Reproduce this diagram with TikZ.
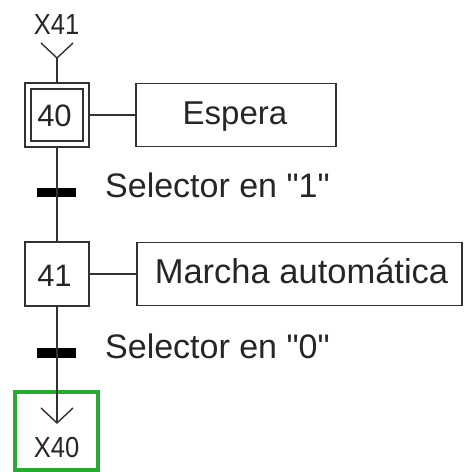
\documentclass[tikz,border=0pt]{standalone}
\usepackage{fontspec}
\setmainfont{Liberation Sans}
\definecolor{ln}{RGB}{50,50,50}
\definecolor{grn}{RGB}{40,170,50}
\tikzset{
  lbl/.style={font=\fontsize{34}{36}\selectfont, text=black!85, inner sep=0pt},
  num/.style={font=\fontsize{31}{33}\selectfont, text=black!85, inner sep=0pt, anchor=base},
  jmp/.style={font=\fontsize{29}{31}\selectfont, text=black!85, inner sep=0pt, anchor=base, xscale=0.88},
  stepbox/.style={draw=ln, line width=1.4pt, minimum width=64pt, minimum height=64pt, inner sep=0pt},
  innerbox/.style={draw=ln, line width=1.4pt, minimum width=52pt, minimum height=52pt, inner sep=0pt},
  actbox/.style={draw=ln, line width=1.4pt, minimum height=63pt, inner sep=0pt},
  bar/.style={fill=black, minimum width=39pt, minimum height=9.5pt, inner sep=0pt},
  wire/.style={draw=ln, line width=1.4pt},
}
\begin{document}
\begin{tikzpicture}[x=1pt,y=-1pt]
\useasboundingbox (0,0) rectangle (464,473);
% initial step link
\node[jmp] (x41) at (56.5,35) {X41};
\coordinate (c41l) at (41,43);
\coordinate (c41t) at (57,58);
\coordinate (c41r) at (73,43);
\path[wire] (c41l) -- (c41t) -- (c41r);
% step 40
\node[stepbox] (s40) at (57,115) {};
\node[innerbox] (s40i) at (57,115) {};
\node[num] (n40) at (54.5,127) {40};
\path[wire] (c41t) -- (s40.north);
\node[actbox, minimum width=200pt] (a40) at (236,115) {};
\node[lbl, anchor=base, font=\fontsize{33}{35}\selectfont] (a40t) at (235,125) {Espera};
\path[wire] (s40.east) -- (a40.west);
% transition 1
\node[bar] (t1) at (56.5,192.5) {};
\node[lbl, anchor=base west] (t1l) at (105,197) {Selector en \textquotedbl1\textquotedbl};
% step 41
\node[stepbox] (s41) at (57,274) {};
\node[num] (n41) at (54.5,286) {41};
\node[actbox, minimum width=325pt] (a41) at (299.5,274) {};
\node[lbl, anchor=base, font=\fontsize{34.5}{36}\selectfont] (a41t) at (301.5,283) {Marcha automática};
\path[wire] (s41.east) -- (a41.west);
\path[wire] (s40.south) -- (s41.north);
% transition 2
\node[bar] (t2) at (56.5,353) {};
\node[lbl, anchor=base west] (t2l) at (105,358) {Selector en \textquotedbl0\textquotedbl};
% jump to X40
\node[draw=grn, line width=4pt, minimum width=83pt, minimum height=78pt, inner sep=0pt] (g) at (56.5,430.5) {};
\coordinate (c40l) at (41,408);
\coordinate (c40t) at (57,423);
\coordinate (c40r) at (73,408);
\path[wire] (s41.south) -- (c40t);
\path[wire] (c40l) -- (c40t) -- (c40r);
\node[jmp] (x40) at (56.5,457) {X40};
\end{tikzpicture}
\end{document}
